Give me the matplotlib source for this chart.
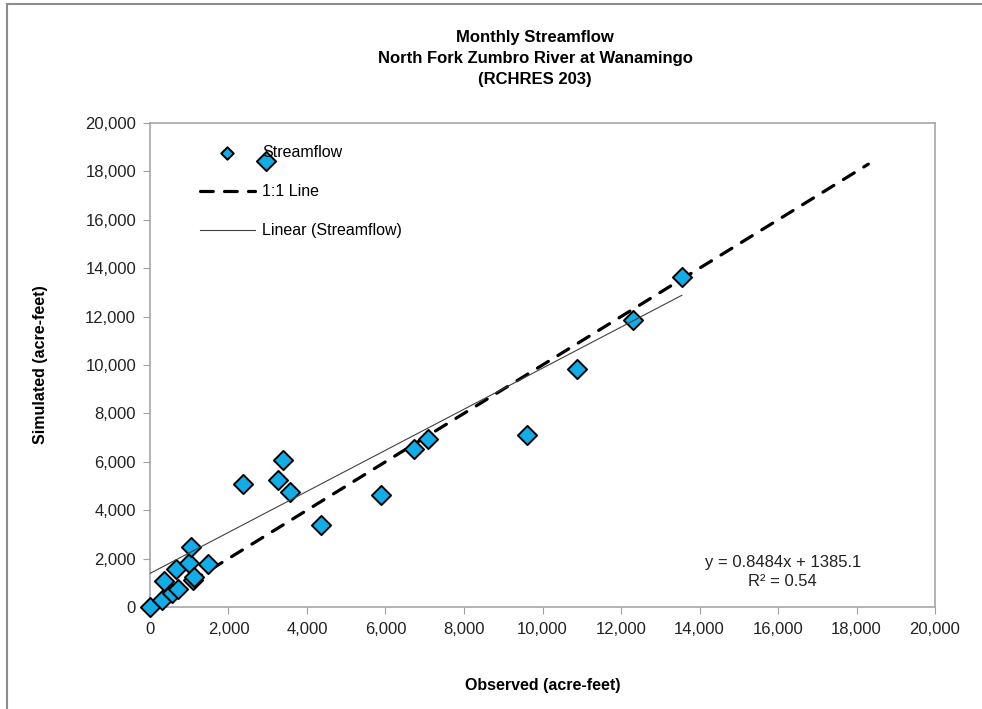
# Monthly streamflow: simulated vs observed, North Fork Zumbro River at Wanamingo
import numpy as np
import matplotlib.pyplot as plt
from matplotlib.ticker import FuncFormatter
from matplotlib.patches import Rectangle

plt.rcParams['font.family'] = ['Liberation Sans', 'DejaVu Sans']

# data (acre-feet)
observed = [0, 300, 370, 560, 710, 660, 990, 1050, 1090, 1120, 1490, 2370,
            3250, 3390, 3580, 4360, 5880, 6730, 7080, 9600, 10870, 12300, 13550, 2960]
simulated = [0, 300, 1060, 580, 760, 1560, 1810, 2460, 1100, 1250, 1780, 5070,
             5250, 6080, 4750, 3380, 4620, 6520, 6950, 7110, 9830, 11850, 13640, 18420]

# trendline reported on the chart
slope = 0.8484
intercept = 1385.1
r2 = 0.54

obs = np.array(observed)
sim = np.array(simulated)

fig = plt.figure(figsize=(9.82, 7.09), dpi=100)
ax = fig.add_axes([0.1527, 0.1439, 0.7995, 0.6826])

# outer chart border
fig.patches.append(Rectangle((7/982, -0.1), 1.2, 1 - 4/709 + 0.1, transform=fig.transFigure,
                             fill=False, edgecolor='#8c8c8c', linewidth=1.5))

one_max = 18300
ax.plot([0, one_max], [0, one_max], color='black', lw=2.3, linestyle=(0, (4, 3.5)),
        dash_capstyle='round', label='1:1 Line', zorder=2)
ax.scatter(obs, sim, marker='D', s=95, facecolor='#12ACE6', edgecolor='black',
           linewidth=1.4, label='Streamflow', zorder=3, clip_on=False)
xfit = np.array([obs.min(), obs.max()])
ax.plot(xfit, slope * xfit + intercept, color='#404040', lw=0.8,
        label='Linear (Streamflow)', zorder=4)

ax.set_xlim(0, 20000)
ax.set_ylim(0, 20000)
ax.set_xticks(np.arange(0, 20001, 2000))
ax.set_yticks(np.arange(0, 20001, 2000))
fmt = FuncFormatter(lambda v, p: f'{int(v):,}')
ax.xaxis.set_major_formatter(fmt)
ax.yaxis.set_major_formatter(fmt)
ax.tick_params(axis='both', direction='out', length=5, color='#a0a0a0',
               labelsize=12, labelcolor='#222222')
ax.tick_params(axis='x', pad=6)
ax.tick_params(axis='y', pad=5)
for s in ax.spines.values():
    s.set_color('#a6a6a6')
    s.set_linewidth(1.2)

ax.set_xlabel('Observed (acre-feet)', fontsize=11.5, fontweight='bold', labelpad=29)
ax.set_ylabel('Simulated (acre-feet)', fontsize=11.5, fontweight='bold', labelpad=27)
fig.text(0.545, 0.958, 'Monthly Streamflow\nNorth Fork Zumbro River at Wanamingo\n(RCHRES 203)',
         ha='center', va='top', fontsize=12, fontweight='bold', linespacing=1.5)

ax.text(0.806, 0.072, f'y = {slope}x + {intercept}\nR² = {r2}', transform=ax.transAxes,
        ha='center', va='center', fontsize=12, color='#222222', linespacing=1.3)

h, l = ax.get_legend_handles_labels()
order = [1, 0, 2]
ax.legend([h[i] for i in order], [l[i] for i in order], loc='upper left',
          bbox_to_anchor=(0.064, 0.954), frameon=False, borderpad=0, borderaxespad=0,
          handlelength=3.4, labelspacing=1.5, fontsize=11.5, markerscale=0.65,
          handletextpad=0.5)

fig.savefig('out.png', dpi=100)
